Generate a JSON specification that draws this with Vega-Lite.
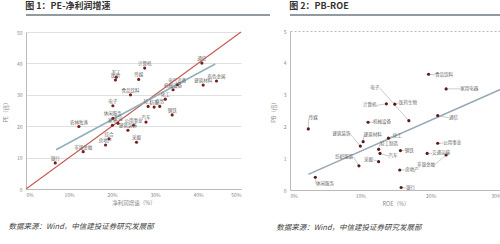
{
  "$schema": "https://vega.github.io/schema/vega-lite/v6.json",
  "padding": {"left": 3, "top": 2, "right": 3, "bottom": 0},
  "spacing": 0,
  "align": "none",
  "config": {
    "font": "Noto Sans CJK SC",
    "view": {"stroke": null},
    "axis": {
      "labelFontSize": 5,
      "labelColor": "#888",
      "titleFontSize": 5.5,
      "titleColor": "#888",
      "titleFontWeight": "normal",
      "domainColor": "#bbb",
      "ticks": false,
      "gridColor": "#d8d8d8",
      "gridWidth": 0.8
    }
  },
  "datasets": {
    "diag": [{"g": 0, "pe": 0}, {"g": 50, "pe": 50}],
    "peFit": [{"g": 7, "pe": 12.5}, {"g": 44, "pe": 39.8}],
    "pe": [
      {"name": "计算机", "g": 27.6, "pe": 38.5},
      {"name": "军工", "g": 21.0, "pe": 35.6},
      {"name": "医药", "g": 20.8, "pe": 34.7},
      {"name": "传媒", "g": 26.2, "pe": 34.9},
      {"name": "食品饮料", "g": 24.3, "pe": 30.0},
      {"name": "电子", "g": 20.2, "pe": 26.5},
      {"name": "通信", "g": 40.9, "pe": 40.1},
      {"name": "建筑材料", "g": 41.2, "pe": 33.1},
      {"name": "有色金属", "g": 44.3, "pe": 34.4},
      {"name": "电气设备", "g": 35.2, "pe": 33.2},
      {"name": "机械设备", "g": 34.2, "pe": 31.6},
      {"name": "化工", "g": 32.4, "pe": 28.6},
      {"name": "轻工", "g": 28.4, "pe": 26.3},
      {"name": "纺服", "g": 29.8, "pe": 26.1},
      {"name": "商贸", "g": 31.1, "pe": 26.3},
      {"name": "钢铁", "g": 34.0, "pe": 23.6},
      {"name": "汽车", "g": 27.9, "pe": 21.3},
      {"name": "休闲服务", "g": 20.2, "pe": 22.5},
      {"name": "农林牧渔", "g": 12.3, "pe": 19.9},
      {"name": "银行", "g": 6.8, "pe": 8.3},
      {"name": "非银金融", "g": 13.3, "pe": 11.9},
      {"name": "家电", "g": 20.1, "pe": 20.3},
      {"name": "交运", "g": 21.4, "pe": 20.9},
      {"name": "公用事业", "g": 25.0, "pe": 20.3},
      {"name": "建筑装饰", "g": 23.7, "pe": 18.7},
      {"name": "采掘", "g": 25.7, "pe": 14.9},
      {"name": "综合", "g": 19.3, "pe": 16.0},
      {"name": "房地产", "g": 18.5, "pe": 14.0}
    ],
    "pbFit": [{"roe": 2.6, "pb": 0.49}, {"roe": 30.2, "pb": 3.19}],
    "pb": [
      {"name": "食品饮料", "roe": 19.7, "pb": 3.64, "lroe": 20.6, "lpb": 3.62},
      {"name": "家用电器", "roe": 22.2, "pb": 3.18, "lroe": 24.2, "lpb": 3.18},
      {"name": "计算机", "roe": 13.7, "pb": 2.71, "lroe": 12.3, "lpb": 2.66},
      {"name": "医药生物", "roe": 14.9, "pb": 2.70, "lroe": 15.5, "lpb": 2.74},
      {"name": "电子", "roe": 16.9, "pb": 2.18, "lroe": 12.7, "lpb": 3.22},
      {"name": "通信", "roe": 21.0, "pb": 2.34, "lroe": 22.6, "lpb": 2.27},
      {"name": "传媒", "roe": 2.6, "pb": 1.92, "lroe": 2.65, "lpb": 2.25},
      {"name": "机械设备", "roe": 11.1, "pb": 2.13, "lroe": 11.8, "lpb": 2.13},
      {"name": "建筑装饰", "roe": 10.0, "pb": 1.38, "lroe": 8.6, "lpb": 1.75},
      {"name": "建筑材料", "roe": 10.4, "pb": 1.52, "lroe": 10.5, "lpb": 1.72},
      {"name": "化工", "roe": 14.0, "pb": 1.63, "lroe": 14.6, "lpb": 1.70},
      {"name": "轻工制造", "roe": 12.6, "pb": 1.28, "lroe": 12.8, "lpb": 1.45},
      {"name": "汽车", "roe": 12.8, "pb": 1.15, "lroe": 14.0, "lpb": 1.07},
      {"name": "钢铁", "roe": 15.7, "pb": 1.24, "lroe": 16.3, "lpb": 1.24},
      {"name": "采掘", "roe": 12.6, "pb": 0.89, "lroe": 11.8, "lpb": 0.95},
      {"name": "纺织服装", "roe": 9.8, "pb": 0.76, "lroe": 9.0, "lpb": 1.05},
      {"name": "房地产", "roe": 15.6, "pb": 0.63, "lroe": 16.4, "lpb": 0.63},
      {"name": "公用事业", "roe": 21.0, "pb": 1.47, "lroe": 21.8, "lpb": 1.47},
      {"name": "交通运输", "roe": 19.5, "pb": 1.15, "lroe": 20.2, "lpb": 1.15},
      {"name": "非银金融", "roe": 22.2, "pb": 1.10, "lroe": 20.6, "lpb": 0.80},
      {"name": "银行", "roe": 15.8, "pb": 0.08, "lroe": 16.5, "lpb": 0.06},
      {"name": "休闲服务", "roe": 3.6, "pb": 0.40, "lroe": 3.7, "lpb": 0.18}
    ]
  },
  "hconcat": [
    {
      "spacing": 13,
      "vconcat": [
        {
          "width": 244,
          "height": 1,
          "data": {"values": [{"v": 0}]},
          "title": {"text": "图 1：PE-净利润增速", "anchor": "start", "fontSize": 9, "fontWeight": "bold", "color": "#333", "offset": 3},
          "mark": {"type": "rule", "stroke": "#6b7880", "strokeWidth": 1.5},
          "encoding": {"y": {"field": "v", "type": "quantitative", "axis": null, "scale": {"domain": [0, 1]}}}
        },
        {
          "width": 215,
          "height": 157,
          "title": {"text": "数据来源：Wind，中信建投证券研究发展部", "orient": "bottom", "anchor": "start", "frame": "bounds", "fontSize": 7.5, "fontStyle": "italic", "fontWeight": "normal", "color": "#444", "offset": 17, "dx": 5},
          "encoding": {
            "x": {"field": "g", "type": "quantitative", "scale": {"domain": [0, 50], "nice": false},
                  "axis": {"title": "净利润增速（%）", "values": [0, 10, 20, 30, 40, 50], "labelExpr": "datum.value + '%'", "grid": false, "labelPadding": 3, "titlePadding": 3}},
            "y": {"field": "pe", "type": "quantitative", "scale": {"domain": [0, 50], "nice": false},
                  "axis": {"title": "PE（倍）", "values": [0, 10, 20, 30, 40, 50], "grid": true, "labelPadding": 4, "titlePadding": 8}}
          },
          "layer": [
            {"data": {"name": "diag"}, "mark": {"type": "line", "stroke": "#c65b52", "strokeWidth": 1.1}, "encoding": {}},
            {"data": {"name": "peFit"}, "mark": {"type": "line", "stroke": "#8fb0bb", "strokeWidth": 1.5}, "encoding": {}},
            {"data": {"name": "pe"}, "mark": {"type": "circle", "size": 10, "color": "#7b1c1c", "opacity": 1}, "encoding": {}},
            {"data": {"name": "pe"}, "mark": {"type": "text", "fontSize": 4.5, "color": "#666", "dy": -4}, "encoding": {"text": {"field": "name"}}}
          ]
        }
      ]
    },
    {
      "spacing": 13,
      "vconcat": [
        {
          "width": 244,
          "height": 1,
          "data": {"values": [{"v": 0}]},
          "title": {"text": "图 2：PB-ROE", "anchor": "start", "fontSize": 9, "fontWeight": "bold", "color": "#333", "offset": 3},
          "mark": {"type": "rule", "stroke": "#6b7880", "strokeWidth": 1.5},
          "encoding": {"y": {"field": "v", "type": "quantitative", "axis": null, "scale": {"domain": [0, 1]}}}
        },
        {
          "width": 211,
          "height": 159,
          "title": {"text": "数据来源：Wind，中信建投证券研究发展部", "orient": "bottom", "anchor": "start", "frame": "bounds", "fontSize": 7.5, "fontStyle": "italic", "fontWeight": "normal", "color": "#444", "offset": 17, "dx": 5},
          "encoding": {
            "x": {"field": "roe", "type": "quantitative", "title": "ROE（%）", "scale": {"domain": [0, 30], "nice": false},
                  "axis": {"title": "ROE（%）", "values": [0, 10, 20, 30], "labelExpr": "datum.value + '%'", "grid": false, "labelPadding": 3, "titlePadding": 3}},
            "y": {"field": "pb", "type": "quantitative", "title": "PB（倍）", "scale": {"domain": [0, 5], "nice": false},
                  "axis": {"title": "PB（倍）", "values": [0, 1, 2, 3, 4, 5], "grid": true, "gridDash": [2, 2],
                           "gridColor": {"condition": {"test": "datum.value == 5", "value": "#aaa"}, "value": "transparent"},
                           "labelPadding": 4, "titlePadding": 7}}
          },
          "layer": [
            {"data": {"name": "pbFit"}, "mark": {"type": "line", "stroke": "#95a8b5", "strokeWidth": 1.5, "clip": false}, "encoding": {}},
            {"data": {"name": "pb"}, "mark": {"type": "rule", "stroke": "#aaa", "strokeWidth": 0.6}, "encoding": {"x2": {"field": "lroe"}, "y2": {"field": "lpb"}}},
            {"data": {"name": "pb"}, "mark": {"type": "circle", "size": 10, "color": "#5a1a1a", "opacity": 1}, "encoding": {}},
            {"data": {"name": "pb"}, "mark": {"type": "text", "fontSize": 4.5, "color": "#666", "baseline": "middle", "align": {"expr": "datum.lroe < datum.roe ? 'right' : 'left'"}},
             "encoding": {"x": {"field": "lroe", "type": "quantitative", "title": "ROE（%）"}, "y": {"field": "lpb", "type": "quantitative", "title": "PB（倍）"}, "text": {"field": "name"}}}
          ]
        }
      ]
    }
  ]
}
